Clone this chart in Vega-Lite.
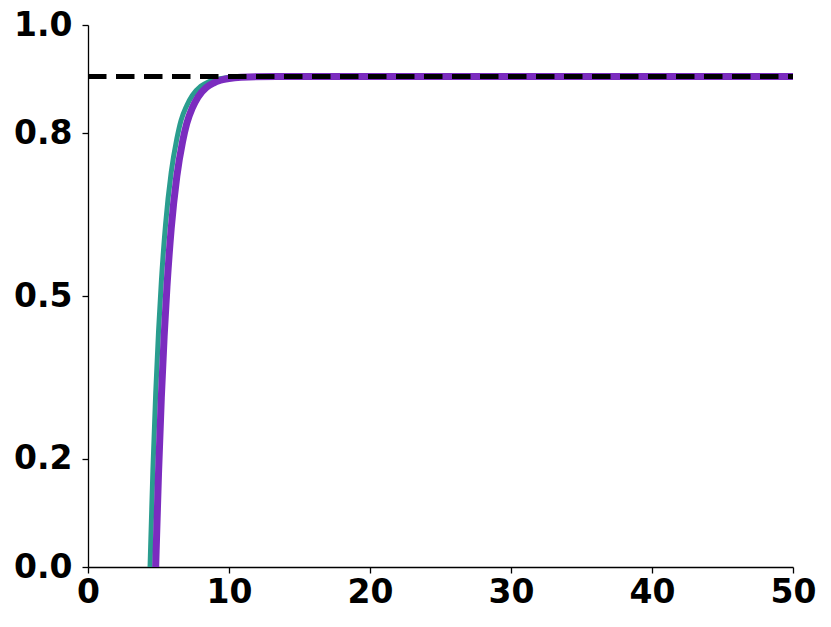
{
  "$schema": "https://vega.github.io/schema/vega-lite/v6.json",
  "autosize": "none",
  "width": 705,
  "height": 542,
  "padding": {"left": 88, "top": 25, "right": 38, "bottom": 60},
  "background": "white",
  "config": {"view": {"stroke": null}},
  "data": {"values": [
    {"s": "g", "x": 4.3, "y": -0.09},
    {"s": "g", "x": 4.4, "y": 0.0},
    {"s": "g", "x": 4.6, "y": 0.177},
    {"s": "g", "x": 4.8, "y": 0.320},
    {"s": "g", "x": 5.0, "y": 0.434},
    {"s": "g", "x": 5.2, "y": 0.526},
    {"s": "g", "x": 5.5, "y": 0.632},
    {"s": "g", "x": 5.9, "y": 0.728},
    {"s": "g", "x": 6.3, "y": 0.790},
    {"s": "g", "x": 6.6, "y": 0.824},
    {"s": "g", "x": 7.0, "y": 0.851},
    {"s": "g", "x": 7.4, "y": 0.870},
    {"s": "g", "x": 8.0, "y": 0.887},
    {"s": "g", "x": 8.5, "y": 0.8945},
    {"s": "g", "x": 9.0, "y": 0.899},
    {"s": "g", "x": 10.0, "y": 0.903},
    {"s": "g", "x": 11.0, "y": 0.9045},
    {"s": "g", "x": 13.0, "y": 0.905},
    {"s": "g", "x": 50.0, "y": 0.905},
    {"s": "p", "x": 4.7, "y": -0.09},
    {"s": "p", "x": 4.8, "y": 0.0},
    {"s": "p", "x": 5.0, "y": 0.172},
    {"s": "p", "x": 5.2, "y": 0.312},
    {"s": "p", "x": 5.4, "y": 0.425},
    {"s": "p", "x": 5.6, "y": 0.517},
    {"s": "p", "x": 5.9, "y": 0.624},
    {"s": "p", "x": 6.3, "y": 0.721},
    {"s": "p", "x": 6.7, "y": 0.784},
    {"s": "p", "x": 7.0, "y": 0.818},
    {"s": "p", "x": 7.4, "y": 0.847},
    {"s": "p", "x": 7.8, "y": 0.867},
    {"s": "p", "x": 8.4, "y": 0.885},
    {"s": "p", "x": 8.9, "y": 0.893},
    {"s": "p", "x": 9.4, "y": 0.898},
    {"s": "p", "x": 10.4, "y": 0.9025},
    {"s": "p", "x": 11.4, "y": 0.9042},
    {"s": "p", "x": 13.4, "y": 0.905},
    {"s": "p", "x": 50.0, "y": 0.905},
    {"s": "d", "x": 0.0, "y": 0.905},
    {"s": "d", "x": 50.0, "y": 0.905}
  ]},
  "encoding": {
    "x": {"field": "x", "type": "quantitative",
      "scale": {"domain": [0, 50], "nice": false, "zero": false},
      "axis": {"values": [0, 10, 20, 30, 40, 50], "format": "d", "grid": false, "title": null,
        "domainColor": "black", "domainWidth": 1.3, "tickColor": "black", "tickWidth": 1.3, "tickSize": 6,
        "labelFont": "DejaVu Sans", "labelFontWeight": "bold", "labelFontSize": 33, "labelColor": "black",
        "labelPadding": 3, "labelFlush": false, "labelOverlap": false}},
    "y": {"field": "y", "type": "quantitative",
      "scale": {"domain": [0, 1], "nice": false, "zero": false},
      "axis": {"values": [0, 0.2, 0.5, 0.8, 1.0], "format": ".1f", "grid": false, "title": null,
        "domainColor": "black", "domainWidth": 1.3, "tickColor": "black", "tickWidth": 1.3, "tickSize": 6,
        "labelFont": "DejaVu Sans", "labelFontWeight": "bold", "labelFontSize": 33, "labelColor": "black",
        "labelPadding": 10, "labelFlush": false, "labelOverlap": false}}
  },
  "layer": [
    {"transform": [{"filter": "datum.s == 'g'"}],
     "mark": {"type": "line", "color": "#2A9D8F", "strokeWidth": 5, "interpolate": "monotone", "clip": true, "strokeCap": "butt"}},
    {"transform": [{"filter": "datum.s == 'p'"}],
     "mark": {"type": "line", "color": "#7B2CBF", "strokeWidth": 7, "interpolate": "monotone", "clip": true, "strokeCap": "butt"}},
    {"transform": [{"filter": "datum.s == 'd'"}],
     "mark": {"type": "line", "color": "black", "strokeWidth": 5, "strokeDash": [18.5, 9.5], "strokeCap": "butt"}}
  ]
}
